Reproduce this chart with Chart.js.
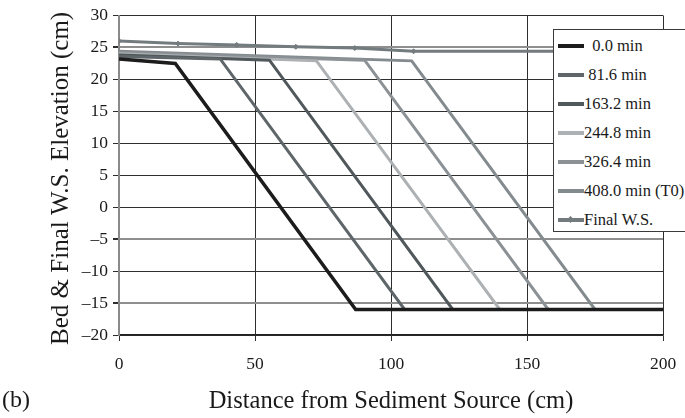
<!DOCTYPE html>
<html>
<head>
<meta charset="utf-8">
<script src="https://cdn.jsdelivr.net/npm/chart.js@4.4.0/dist/chart.umd.min.js"></script>
<style>
  html, body { margin: 0; padding: 0; background: #fff; overflow: hidden; }
  #wrap { position: relative; width: 685px; height: 418px; overflow: hidden; }
  #chart { position: absolute; left: 0; top: 0; }
  #legend {
    position: absolute; left: 553px; top: 29px; width: 150px; height: 203px;
    box-sizing: border-box; border: 1.5px solid #3a3a3a; background: #fff;
    font-family: "Liberation Serif", serif; font-size: 16.5px; color: #1a1a1a;
    padding-top: 1px;
  }
  .item { display: flex; align-items: center; height: 29px; white-space: pre; }
  .swatch { position: relative; width: 26px; height: 4px; margin-left: 4px; }
  .swatch .dot { position: absolute; left: 10px; top: -1px; width: 5px; height: 5px; transform: rotate(45deg); }
  #tag {
    position: absolute; left: 2px; top: 386px;
    font-family: "Liberation Serif", serif; font-size: 24px; color: #1a1a1a;
  }
</style>
</head>
<body>
<div id="wrap">
  <canvas id="chart" width="685" height="418"></canvas>
  <div id="legend"></div>
  <div id="tag">(b)</div>
</div>
<script>
// Bed profiles at successive times (distance in cm, elevation in cm)
const seriesLabels = ['  0.0 min', ' 81.6 min', '163.2 min', '244.8 min', '326.4 min', '408.0 min (T0)', 'Final W.S.'];

const bed0X   = [0, 20.7, 87.0, 200];
const bed0Y   = [23.2, 22.5, -16, -16];
const bed82X  = [0, 37.2, 105.0, 200];
const bed82Y  = [23.6, 23.2, -16, -16];
const bed163X = [0, 55.3, 122.7, 200];
const bed163Y = [23.8, 23.0, -16, -16];
const bed245X = [0, 72.6, 140.0, 200];
const bed245Y = [24.0, 22.9, -16, -16];
const bed326X = [0, 90.3, 157.8, 200];
const bed326Y = [24.2, 23.0, -16, -16];
const bed408X = [0, 107.6, 175.0, 200];
const bed408Y = [24.4, 22.9, -16, -16];

// Final water surface
const wsX = [0, 21.7, 43.3, 65.0, 86.7, 108.3, 200];
const wsY = [26.0, 25.6, 25.4, 25.1, 24.9, 24.4, 24.4];

// Axis ticks
const xTicks = [0, 50, 100, 150, 200];
const yTicks = [30, 25, 20, 15, 10, 5, 0, -5, -10, -15, -20];
const softGridValues = [25, -5, -15];

const colors = ['#1c1c1c', '#5e6669', '#50585b', '#adb1b4', '#8b9195', '#848b8f', '#737b7e'];

function pts(xs, ys) { return xs.map((x, i) => ({ x: x, y: ys[i] })); }

const profiles = [
  pts(bed0X, bed0Y), pts(bed82X, bed82Y), pts(bed163X, bed163Y),
  pts(bed245X, bed245Y), pts(bed326X, bed326Y), pts(bed408X, bed408Y),
  pts(wsX, wsY)
];

const datasets = profiles.map((data, i) => {
  const isWs = i === 6;
  return {
    label: seriesLabels[i],
    data: data,
    borderColor: colors[i],
    backgroundColor: colors[i],
    borderWidth: i === 0 ? 3.5 : 3,
    pointRadius: isWs ? (ctx => (ctx.dataIndex < wsX.length - 1 ? 2.5 : 0)) : 0,
    pointStyle: 'rectRot',
    pointBorderWidth: 1,
    tension: 0,
    fill: false
  };
});

const serif = 'Liberation Serif';
const signed = v => (v < 0 ? '\u2013' + Math.abs(v) : String(v));

const chart = new Chart(document.getElementById('chart'), {
  type: 'line',
  data: { datasets: datasets },
  options: {
    responsive: false,
    animation: false,
    events: [],
    layout: { padding: { left: 0, top: 13, right: 22, bottom: 0 } },
    plugins: { legend: { display: false }, tooltip: { enabled: false } },
    scales: {
      x: {
        type: 'linear', min: 0, max: 200,
        afterBuildTicks: s => { s.ticks = xTicks.map(v => ({ value: v })); },
        afterFit: s => { s.height = 83; s.paddingLeft = 0; s.paddingRight = 0; },
        ticks: { font: { family: serif, size: 17.5 }, color: '#1a1a1a', padding: 13, maxRotation: 0, callback: v => signed(v) },
        grid: { color: '#2e2e2e', lineWidth: 1, tickLength: 6, tickColor: '#2e2e2e' },
        border: { color: '#222', width: 1.5 },
        title: {
          display: true, text: 'Distance from Sediment Source (cm)',
          font: { family: serif, size: 24.5 }, color: '#1a1a1a', padding: { top: 0, bottom: 2 }
        }
      },
      y: {
        type: 'linear', min: -20, max: 30,
        afterBuildTicks: s => { s.ticks = yTicks.map(v => ({ value: v })); },
        afterFit: s => { s.width = 119; },
        ticks: { font: { family: serif, size: 17.5 }, color: '#1a1a1a', padding: 5, callback: v => signed(v) },
        grid: {
          color: ctx => (ctx.tick && softGridValues.includes(ctx.tick.value) ? '#8e8e8e' : '#2e2e2e'),
          lineWidth: ctx => (ctx.tick && softGridValues.includes(ctx.tick.value) ? 2 : 1),
          tickLength: 6, tickColor: '#2e2e2e'
        },
        border: { color: '#8a8a8a', width: 2 },
        title: {
          display: true, text: 'Bed & Final W.S. Elevation (cm) ',
          font: { family: serif, size: 25 }, color: '#1a1a1a', padding: { top: 46, bottom: 0 }
        }
      }
    }
  }
});

// Legend built from the chart's datasets
const legend = document.getElementById('legend');
chart.data.datasets.forEach((ds, i) => {
  const item = document.createElement('div');
  item.className = 'item';
  const sw = document.createElement('span');
  sw.className = 'swatch';
  sw.style.background = ds.borderColor;
  if (i === 6) {
    const dot = document.createElement('span');
    dot.className = 'dot';
    dot.style.background = ds.borderColor;
    sw.appendChild(dot);
  }
  const txt = document.createElement('span');
  txt.textContent = ds.label;
  item.appendChild(sw);
  item.appendChild(txt);
  legend.appendChild(item);
});
</script>
</body>
</html>
